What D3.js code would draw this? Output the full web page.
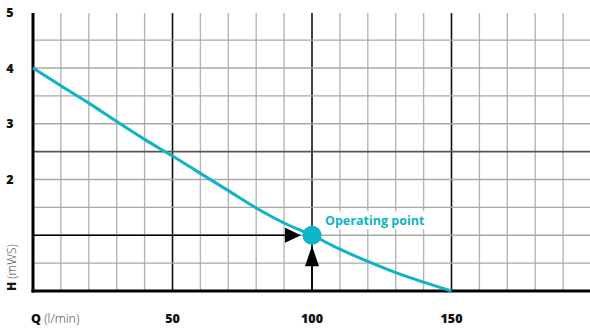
<!DOCTYPE html>
<html><head><meta charset="utf-8">
<script src="https://cdn.jsdelivr.net/npm/d3@7"></script>
<style>body{margin:0;background:#fff}svg{display:block}</style>
</head><body>
<svg id="c" width="590" height="329"></svg>
<script>
const flow = [0,10,20,30,40,50,60,70,80,90,100,110,120,130,140,150];
const head = [4.0,3.68,3.37,3.04,2.72,2.42,2.11,1.80,1.49,1.22,1.0,0.75,0.53,0.33,0.16,0];
const xTickLabels = [50,100,150];
const yTickLabels = [2,3,4,5];
const opPoint = {q:100, h:1.0, label:"Operating point"};

const svg = d3.select("#c");
const x = d3.scaleLinear().domain([0,200]).range([33,591]);
const y = d3.scaleLinear().domain([0,5]).range([291,12.25]);
const teal = "#0db3c7";
const font = "'Open Sans', sans-serif";

// minor grid
const g = svg.append("g");
g.selectAll(".vx").data(d3.range(10,200,10)).join("line")
  .attr("x1",d=>x(d)).attr("x2",d=>x(d)).attr("y1",13).attr("y2",291)
  .attr("stroke",d=>d%50===0?"#111":"#b5b5b5").attr("stroke-width",d=>d%50===0?1.6:1.4);
g.selectAll(".hy").data(d3.range(0.5,5,0.5)).join("line")
  .attr("x1",33).attr("x2",591).attr("y1",d=>y(d)).attr("y2",d=>y(d))
  .attr("stroke",d=>d===2.5?"#555":"#a8a8a8").attr("stroke-width",d=>d===2.5?1.6:1.4);

// axes
svg.append("line").attr("x1",x(0)).attr("x2",x(0)).attr("y1",13).attr("y2",292.5)
  .attr("stroke","#000").attr("stroke-width",3);
svg.append("line").attr("x1",31.5).attr("x2",591).attr("y1",y(0)).attr("y2",y(0))
  .attr("stroke","#000").attr("stroke-width",3);

// curve
svg.append("path").datum(flow.map((q,i)=>[q,head[i]]))
  .attr("d",d3.line().x(d=>x(d[0])).y(d=>y(d[1])).curve(d3.curveMonotoneX))
  .attr("fill","none").attr("stroke",teal).attr("stroke-width",3);

// arrows
const px = x(opPoint.q), py = y(opPoint.h);
svg.append("line").attr("x1",x(0)).attr("x2",px-14).attr("y1",py).attr("y2",py)
  .attr("stroke","#000").attr("stroke-width",1.6);
svg.append("path").attr("d",`M${px-11},${py} L${px-27},${py-7.5} L${px-27},${py+7.5} Z`).attr("fill","#000");
svg.append("line").attr("x1",px).attr("x2",px).attr("y1",y(0)).attr("y2",py+12)
  .attr("stroke","#000").attr("stroke-width",1.6);
svg.append("path").attr("d",`M${px},${py+10.5} L${px-7},${py+31} L${px+7},${py+31} Z`).attr("fill","#000");

// point + label
svg.append("circle").attr("cx",px).attr("cy",py).attr("r",9.5).attr("fill",teal);
svg.append("rect").attr("x",px+10).attr("y",py-24).attr("width",112).attr("height",18).attr("fill","#fff");
svg.append("text").attr("x",px+13).attr("y",py-10).text(opPoint.label)
  .attr("font-family",font).attr("font-weight",700).attr("font-size",12.5).attr("fill",teal);

// y labels
svg.selectAll(".yl").data(yTickLabels).join("text")
  .attr("x",10).attr("y",d=>y(d)+4.5).attr("text-anchor","middle")
  .attr("font-family",font).attr("font-weight",800).attr("font-size",12.5).attr("fill","#111").text(d=>d);
// x labels
svg.selectAll(".xl").data(xTickLabels).join("text")
  .attr("x",d=>x(d)).attr("y",323).attr("text-anchor","middle")
  .attr("font-family",font).attr("font-weight",800).attr("font-size",12.5).attr("fill","#111").text(d=>d);

// axis titles
const qt = svg.append("text").attr("x",31).attr("y",323).attr("font-family",font).attr("font-size",12.5);
qt.append("tspan").attr("font-weight",800).attr("fill","#111").text("Q");
qt.append("tspan").attr("font-weight",300).attr("fill","#444").text(" (l/min)");
const ht = svg.append("text").attr("transform","translate(16,291) rotate(-90)").attr("font-family",font).attr("font-size",12);
ht.append("tspan").attr("font-weight",800).attr("fill","#111").text("H");
ht.append("tspan").attr("font-weight",300).attr("fill","#444").text(" (mWS)");
</script>
</body></html>
